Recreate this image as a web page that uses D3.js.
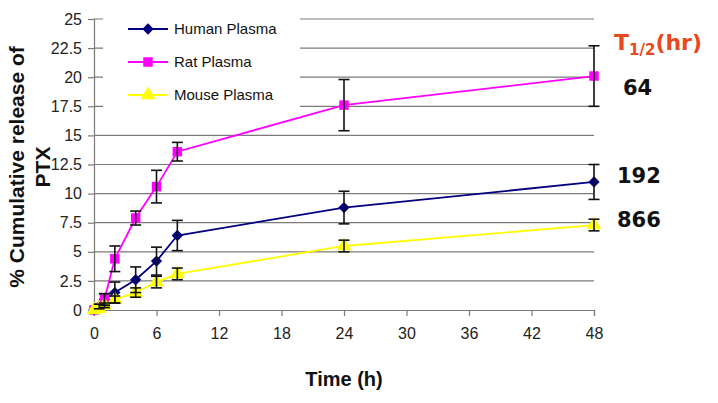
<!DOCTYPE html>
<html>
<head>
<meta charset="utf-8">
<script src="https://cdn.jsdelivr.net/npm/d3@7"></script>
<style>
  body { margin: 0; background: #fff; }
  svg { display: block; font-family: "Liberation Sans", Arial, sans-serif; }
</style>
</head>
<body>
<svg id="chart" width="718" height="403"></svg>
<script>
// sampling times (h)
const times = [0, 0.5, 1, 2, 4, 6, 8, 24, 48];

// cumulative release of PTX (%) and error bar half-widths
const human = [0, 0.3, 0.9, 1.5, 2.6, 4.2, 6.4, 8.8, 11.0];
const humanErr = [0, 0.2, 0.5, 0.9, 1.1, 1.2, 1.3, 1.4, 1.5];
const rat = [0, 0.2, 0.9, 4.4, 7.9, 10.6, 13.6, 17.6, 20.1];
const ratErr = [0, 0.1, 0.5, 1.1, 0.6, 1.4, 0.8, 2.2, 2.6];
const mouse = [0, 0.1, 0.4, 0.9, 1.5, 2.4, 3.1, 5.5, 7.3];
const mouseErr = [0, 0.1, 0.2, 0.3, 0.4, 0.5, 0.5, 0.5, 0.5];

const seriesNames = ['Human Plasma', 'Rat Plasma', 'Mouse Plasma'];
const halfLives = ['192', '64', '866'];

const xTicks = [0, 6, 12, 18, 24, 30, 36, 42, 48];
const yTicks = [0, 2.5, 5, 7.5, 10, 12.5, 15, 17.5, 20, 22.5, 25];

const series = [
    {name: seriesNames[0], values: human, err: humanErr, color: '#000080', symbol: d3.symbolSquare, size: 64, rot: 45},
    {name: seriesNames[1], values: rat, err: ratErr, color: '#ff00ff', symbol: d3.symbolSquare, size: 90, rot: 0},
    {name: seriesNames[2], values: mouse, err: mouseErr, color: '#ffff00', symbol: d3.symbolTriangle, size: 95, rot: 0},
];

const svg = d3.select('#chart');
svg.append('rect').attr('width', 718).attr('height', 403).attr('fill', '#fff');

const x = d3.scaleLinear().domain([0, 48]).range([94, 594]);
const y = d3.scaleLinear().domain([0, 25]).range([310, 19]);

// gridlines
svg.append('g')
    .selectAll('line')
    .data(yTicks.slice(1))
    .join('line')
    .attr('x1', x(0)).attr('x2', x(48))
    .attr('y1', (d) => y(d)).attr('y2', (d) => y(d))
    .attr('stroke', '#7a7a7a').attr('stroke-width', 1.2);

// y axis
const yAxis = svg.append('g')
    .attr('transform', `translate(${x(0)},0)`)
    .call(d3.axisLeft(y).tickValues(yTicks).tickSize(6).tickPadding(6)
        .tickFormat((d) => String(d)));
yAxis.selectAll('line, path').attr('stroke', '#7a7a7a').attr('stroke-width', 1.2);
yAxis.selectAll('text').attr('font-size', 16).attr('fill', '#222')
    .attr('font-family', '"Liberation Sans", Arial, sans-serif');

// x axis
const xAxis = svg.append('g')
    .attr('transform', `translate(0,${y(0)})`)
    .call(d3.axisBottom(x).tickValues(xTicks).tickSize(6).tickPadding(12));
xAxis.selectAll('line, path').attr('stroke', '#7a7a7a').attr('stroke-width', 1.2);
xAxis.selectAll('text').attr('font-size', 16).attr('fill', '#222')
    .attr('font-family', '"Liberation Sans", Arial, sans-serif');

// series lines
const line = d3.line().x((d) => x(d[0])).y((d) => y(d[1]));
series.forEach((s) => {
    const pts = times.map((t, i) => [t, s.values[i]]);
    svg.append('path')
        .datum(pts)
        .attr('d', line)
        .attr('fill', 'none')
        .attr('stroke', s.color)
        .attr('stroke-width', 1.8);
    svg.append('g')
        .selectAll('path')
        .data(pts)
        .join('path')
        .attr('d', d3.symbol().type(s.symbol).size(s.size))
        .attr('transform', (d) => `translate(${x(d[0])},${y(d[1])}) rotate(${s.rot})`)
        .attr('fill', s.color);
});

// error bars
series.forEach((s) => {
    const g = svg.append('g').attr('stroke', '#111').attr('stroke-width', 1.6);
    times.forEach((t, i) => {
        const e = s.err[i];
        if (e <= 0.15) return;
        const cx = x(t);
        const top = y(s.values[i] + e);
        const bot = y(s.values[i] - e);
        g.append('line').attr('x1', cx).attr('x2', cx).attr('y1', top).attr('y2', bot);
        g.append('line').attr('x1', cx - 5.5).attr('x2', cx + 5.5).attr('y1', top).attr('y2', top);
        g.append('line').attr('x1', cx - 5.5).attr('x2', cx + 5.5).attr('y1', bot).attr('y2', bot);
    });
});

// legend
const legend = svg.append('g');
legend.append('rect').attr('x', 103).attr('y', 9).attr('width', 197).attr('height', 108).attr('fill', '#fff');
series.forEach((s, i) => {
    const ly = 29 + i * 33;
    legend.append('line').attr('x1', 128).attr('x2', 168).attr('y1', ly).attr('y2', ly)
        .attr('stroke', s.color).attr('stroke-width', 1.8);
    legend.append('path')
        .attr('d', d3.symbol().type(s.symbol).size(s.size))
        .attr('transform', `translate(148,${ly}) rotate(${s.rot})`)
        .attr('fill', s.color);
    legend.append('text').attr('x', 174).attr('y', ly + 5)
        .attr('font-size', 15).attr('fill', '#111')
        .text(s.name);
});

// axis titles
svg.append('text')
    .attr('transform', 'translate(24,167) rotate(-90)')
    .attr('text-anchor', 'middle')
    .attr('font-size', 21).attr('font-weight', 'bold').attr('fill', '#111')
    .text('% Cumulative release of');
svg.append('text')
    .attr('transform', 'translate(50,167) rotate(-90)')
    .attr('text-anchor', 'middle')
    .attr('font-size', 21).attr('font-weight', 'bold').attr('fill', '#111')
    .text('PTX');
svg.append('text')
    .attr('x', 344).attr('y', 386)
    .attr('text-anchor', 'middle')
    .attr('font-size', 20).attr('font-weight', 'bold').attr('fill', '#111')
    .text('Time (h)');

// half-life annotations
const ann = svg.append('g').attr('font-family', '"DejaVu Sans", Verdana, sans-serif')
    .attr('font-weight', 'bold');
const t12 = ann.append('text').attr('x', 614).attr('y', 50)
    .attr('font-size', 22).attr('fill', '#e8481e');
t12.append('tspan').text('T');
t12.append('tspan').attr('font-size', 15).attr('dy', 5).text('1/2');
t12.append('tspan').attr('dy', -5).text('(hr)');
const annY = [183, 95, 227];
const annX = [617, 623, 617];
halfLives.forEach((h, i) => {
    ann.append('text').attr('x', annX[i]).attr('y', annY[i])
        .attr('font-size', 21).attr('fill', '#111')
        .text(h);
});
</script>
</body>
</html>
